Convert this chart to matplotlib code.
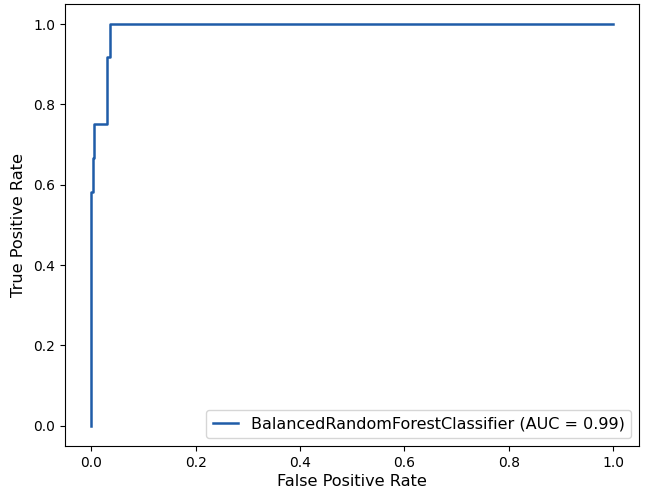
import matplotlib
matplotlib.use("Agg")
import matplotlib.pyplot as plt

# ROC curve points
fpr = [0.0, 0.0, 0.004, 0.004, 0.006, 0.006, 0.030, 0.030, 0.035, 0.035, 1.0]
tpr = [0.0, 0.583, 0.583, 0.667, 0.667, 0.75, 0.75, 0.917, 0.917, 1.0, 1.0]
label = "BalancedRandomForestClassifier (AUC = 0.99)"

fig = plt.figure(figsize=(6.45, 4.96), dpi=100)
ax = fig.add_axes([0.101, 0.101, 0.890, 0.891])
ax.plot(fpr, tpr, color="#1f5ca8", linewidth=1.8, label=label)
ax.set_xlim(-0.05, 1.05)
ax.set_ylim(-0.05, 1.05)
ax.set_xlabel("False Positive Rate", fontsize=11.6, labelpad=3)
ax.set_ylabel("True Positive Rate", fontsize=11.6, labelpad=5)
ax.tick_params(labelsize=10)
ax.legend(loc="lower right", fontsize=11.5, handlelength=1.6)

fig.savefig("out.png", dpi=100)
